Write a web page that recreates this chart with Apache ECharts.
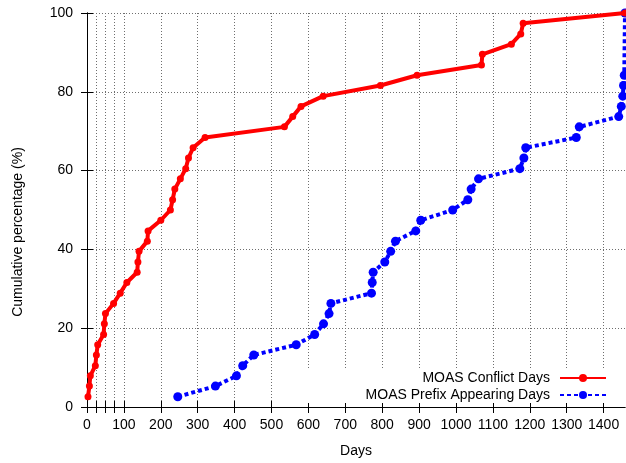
<!DOCTYPE html>
<html>
<head>
<meta charset="utf-8">
<script src="https://cdn.jsdelivr.net/npm/echarts@6/dist/echarts.min.js"></script>
<style>
  html, body { margin: 0; padding: 0; background: #fff; }
  #chart { width: 626px; height: 463px; }
</style>
</head>
<body>
<div id="chart"></div>
<script>
// Cumulative share of MOAS conflicts over their lifetime (days)
const conflictDays = [2.7, 6.5, 9, 22.6, 25.4, 29, 45, 47, 50, 72, 90, 108, 136, 138, 141, 163.5, 165.5, 200, 226,
  232, 238, 253, 267.5, 275, 287.5, 320, 535, 557.5, 580, 640, 795, 894.5, 1069, 1071.5, 1150, 1175.5, 1182, 1458];
const conflictPct = [2.6, 5.3, 7.9, 10.5, 13.2, 15.8, 18.4, 21.1, 23.7, 26.3, 28.9, 31.6, 34.2, 36.8, 39.5, 42.1, 44.7, 47.4, 50,
  52.6, 55.3, 57.9, 60.5, 63.2, 65.8, 68.4, 71.1, 73.7, 76.3, 78.9, 81.6, 84.2, 86.8, 89.5, 92.1, 94.7, 97.4, 100];

const prefixDays = [246, 348, 405, 422, 452, 567, 617, 641, 656, 661, 771, 773, 775.5, 807, 823, 836, 891, 904.5,
  991, 1032, 1041, 1061, 1173, 1184, 1189, 1326, 1334, 1441, 1448, 1452, 1454, 1456, 1458];
const prefixPct = [2.6, 5.3, 7.9, 10.5, 13.2, 15.8, 18.4, 21.1, 23.7, 26.3, 28.9, 31.6, 34.2, 36.8, 39.5, 42.1, 44.7, 47.4,
  50, 52.6, 55.3, 57.9, 60.5, 63.2, 65.8, 68.4, 71.1, 73.7, 76.3, 78.9, 81.6, 84.2, 100];

const xTickValues = [0, 25, 50, 75, 100, 200, 300, 400, 500, 600, 700, 800, 900, 1000, 1100, 1200, 1300, 1400];
const xLabelValues = [0, 100, 200, 300, 400, 500, 600, 700, 800, 900, 1000, 1100, 1200, 1300, 1400];
const xMax = 1458;
const seriesNames = ['MOAS Conflict Days', 'MOAS Prefix Appearing Days'];

const FONT = 'Liberation Sans, Arial, sans-serif';
const pair = (xs, ys) => xs.map((x, i) => [x, ys[i]]);

const gridLine = { show: true, lineStyle: { color: '#6e6e6e', width: 1, type: [1, 2] } };
const tickIn = (vals) => ({ show: true, inside: true, length: 6, lineStyle: { color: '#000', width: 1 }, customValues: vals });

const chart = echarts.init(document.getElementById('chart'), null, { renderer: 'canvas' });
chart.setOption({
  animation: false,
  backgroundColor: '#fff',
  grid: { left: 87, right: 1, top: 13, bottom: 54, containLabel: false },
  xAxis: [
    {
      type: 'value', min: 0, max: xMax, position: 'bottom',
      name: 'Days', nameLocation: 'middle', nameGap: 37,
      nameTextStyle: { fontFamily: FONT, fontSize: 14, color: '#000' },
      axisLine: { show: true, lineStyle: { color: '#000', width: 1 } },
      axisTick: tickIn(xTickValues),
      axisLabel: {
        customValues: xLabelValues, fontFamily: FONT, fontSize: 14, color: '#000', margin: 11,
        formatter: (v) => String(v)
      },
      splitLine: gridLine
    },
    {
      type: 'value', min: 0, max: xMax, position: 'top',
      axisLine: { show: true, lineStyle: { color: '#000', width: 1 } },
      axisTick: tickIn(xTickValues),
      axisLabel: { show: false },
      splitLine: { show: false }
    }
  ],
  yAxis: [
    {
      type: 'value', min: 0, max: 100, interval: 20, position: 'left',
      name: 'Cumulative percentage (%)', nameLocation: 'middle', nameGap: 62,
      nameTextStyle: { fontFamily: FONT, fontSize: 14, color: '#000', padding: [0, 44, 0, 0] },
      axisLine: { show: true, lineStyle: { color: '#000', width: 1 } },
      axisTick: { show: true, inside: true, length: 6, lineStyle: { color: '#000' } },
      axisLabel: { fontFamily: FONT, fontSize: 14, color: '#000', margin: 14 },
      splitLine: gridLine
    },
    {
      type: 'value', min: 0, max: 100, interval: 20, position: 'right',
      axisLine: { show: true, lineStyle: { color: '#000', width: 1 } },
      axisTick: { show: true, inside: true, length: 6, lineStyle: { color: '#000' } },
      axisLabel: { show: false },
      splitLine: { show: false }
    }
  ],
  // key box: opaque white panel behind the legend rows
  graphic: [{
    type: 'rect', z: 1, silent: true,
    shape: { x: 294, y: 369, width: 329, height: 34 },
    style: { fill: '#fff' }
  }],
  legend: [
    {
      data: [seriesNames[0]], right: 19, top: 371, align: 'right', orient: 'horizontal',
      itemWidth: 46, itemHeight: 10, padding: 0, selectedMode: false,
      textStyle: { fontFamily: FONT, fontSize: 14, color: '#000', padding: [0, 5, 0, 0] }
    },
    {
      data: [seriesNames[1]], right: 19, top: 388, align: 'right', orient: 'horizontal',
      itemWidth: 46, itemHeight: 10, padding: 0, selectedMode: false,
      textStyle: { fontFamily: FONT, fontSize: 14, color: '#000', padding: [0, 5, 0, 0] }
    }
  ],
  series: [
    {
      name: seriesNames[0], type: 'line', xAxisIndex: 0, yAxisIndex: 0,
      data: pair(conflictDays, conflictPct),
      symbol: 'circle', symbolSize: 7, clip: false,
      lineStyle: { color: '#ff0000', width: 4 },
      itemStyle: { color: '#ff0000' },
      z: 3
    },
    {
      name: seriesNames[1], type: 'line', xAxisIndex: 0, yAxisIndex: 0,
      data: pair(prefixDays, prefixPct),
      symbol: 'circle', symbolSize: 9, clip: false,
      lineStyle: { color: '#0000ff', width: 4, type: [4, 3] },
      itemStyle: { color: '#0000ff' },
      z: 2
    }
  ]
});
</script>
</body>
</html>
